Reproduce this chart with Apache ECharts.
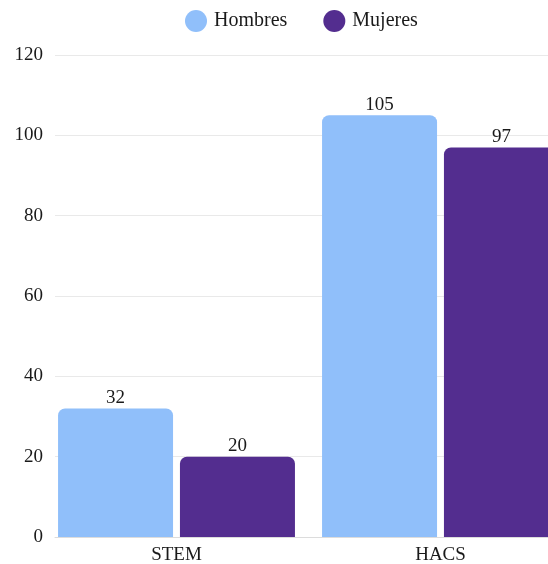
<!DOCTYPE html>
<html><head><meta charset="utf-8">
<script src="https://cdn.jsdelivr.net/npm/echarts@6/dist/echarts.min.js"></script>
<style>html,body{margin:0;padding:0;background:#fff}#c{width:548px;height:564px}</style>
</head><body><div id="c"></div>
<script>
const categories = ['STEM', 'HACS'];
const hombres = [32, 105];
const mujeres = [20, 97];
const seriesNames = ['Hombres', 'Mujeres'];
const yTicks = { min: 0, max: 120, interval: 20 };

const font = '"Liberation Serif", "Times New Roman", Times, serif';
const txt = '#1a1a1a';
const chart = echarts.init(document.getElementById('c'), null, { renderer: 'canvas' });
chart.setOption({
  animation: false,
  textStyle: { fontFamily: font },
  legend: {
    top: 5, left: 180, itemWidth: 22, itemHeight: 22, itemGap: 36, icon: 'circle',
    textStyle: { fontFamily: font, fontSize: 20, color: txt, padding: [0, 0, 0, 2] },
    data: seriesNames
  },
  grid: [
    { left: 55, right: 0, top: 55, bottom: 27, containLabel: false, outerBoundsMode: 'none' },
    { left: 44.5, width: 528, top: 55, bottom: 27, containLabel: false, outerBoundsMode: 'none' }
  ],
  xAxis: [
    { gridIndex: 0, type: 'value', show: true, min: 0, max: 1,
      axisLabel: { show: false }, axisTick: { show: false }, splitLine: { show: false },
      axisLine: { show: true, lineStyle: { color: '#dcdcdc' } } },
    { gridIndex: 1, type: 'category', data: categories,
      axisLine: { show: false }, axisTick: { show: false },
      axisLabel: { fontFamily: font, fontSize: 19, color: txt, margin: 9 } }
  ],
  yAxis: [
    { gridIndex: 0, type: 'value', min: yTicks.min, max: yTicks.max, interval: yTicks.interval,
      axisLine: { show: false }, axisTick: { show: false },
      axisLabel: { fontFamily: font, fontSize: 19, color: txt, margin: 12, padding: [5, 0, 0, 0] },
      splitLine: { lineStyle: { color: '#e9e9e9' } } },
    { gridIndex: 1, type: 'value', min: yTicks.min, max: yTicks.max, interval: yTicks.interval, show: false }
  ],
  series: [
    { name: seriesNames[0], type: 'bar', xAxisIndex: 1, yAxisIndex: 1, data: hombres,
      barWidth: 115, barGap: '6%',
      itemStyle: { color: '#90bffa', borderRadius: [7, 7, 0, 0] },
      label: { show: true, position: 'top', distance: 1, fontFamily: font, fontSize: 19, color: txt } },
    { name: seriesNames[1], type: 'bar', xAxisIndex: 1, yAxisIndex: 1, data: mujeres,
      barWidth: 115, barGap: '6%',
      itemStyle: { color: '#532d8f', borderRadius: [7, 7, 0, 0] },
      label: { show: true, position: 'top', distance: 1, fontFamily: font, fontSize: 19, color: txt } }
  ]
});
</script></body></html>
